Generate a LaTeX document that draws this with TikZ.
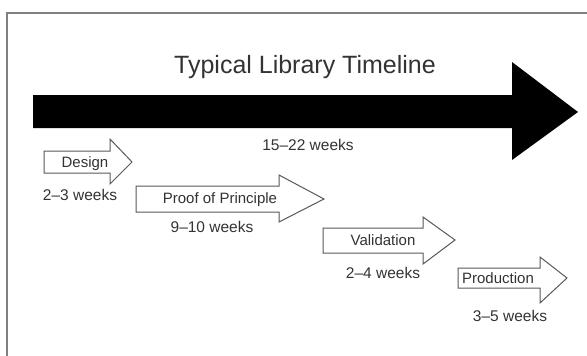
\documentclass[tikz,border=0pt]{standalone}
\usepackage{fontspec}
\setmainfont{Liberation Sans}
\begin{document}
\begin{tikzpicture}[x=1pt,y=-1pt,
  frameline/.style={draw=black!50,line width=2pt},
  bigarrow/.style={fill=black,draw=none},
  smallarrow/.style={draw=black!65,fill=white,line width=1pt,line join=miter},
  boxtext/.style={font=\fontsize{15}{15}\selectfont,text=black!80,inner sep=0pt,anchor=base},
  weektext/.style={font=\fontsize{15.5}{16}\selectfont,text=black!80,inner sep=0pt,anchor=base},
  titletext/.style={font=\fontsize{25}{25}\selectfont,text=black!80,inner sep=0pt,anchor=base}]
\useasboundingbox[fill=white] (0,0) rectangle (587,356);
% frame
\draw[frameline] (7,356) -- (7,13) -- (587,13);
% big arrow
\fill[bigarrow] (33,95) -- (512,95) -- (512,62) -- (578,112) -- (512,160) -- (512,128) -- (33,128) -- cycle;
\node[titletext] (title) at (305,73) {Typical Library Timeline};
\node[weektext] (total) at (308,150) {15–22 weeks};
% Design
\draw[smallarrow] (44,151) -- (110,151) -- (110,139) -- (132,162) -- (110,184) -- (110,173) -- (44,173) -- cycle;
\node[boxtext] (design) at (85,167) {Design};
\node[weektext] (designw) at (80,200.5) {2–3 weeks};
% Proof of Principle
\draw[smallarrow] (136,186) -- (279,186) -- (279,175) -- (324,199) -- (279,222) -- (279,212) -- (136,212) -- cycle;
\node[boxtext] (proof) at (220,203.5) {Proof of Principle};
\node[weektext] (proofw) at (212,232.5) {9–10 weeks};
% Validation
\draw[smallarrow] (323,228) -- (423,228) -- (423,217) -- (455,240) -- (423,264) -- (423,253) -- (323,253) -- cycle;
\node[boxtext] (valid) at (383,245.5) {Validation};
\node[weektext] (validw) at (383,278.5) {2–4 weeks};
% Production
\draw[smallarrow] (458,268) -- (540,268) -- (540,257) -- (567,278) -- (540,303) -- (540,288) -- (458,288) -- cycle;
\node[boxtext] (prod) at (498,283.5) {Production};
\node[weektext] (prodw) at (510,321.5) {3–5 weeks};
\end{tikzpicture}
\end{document}
